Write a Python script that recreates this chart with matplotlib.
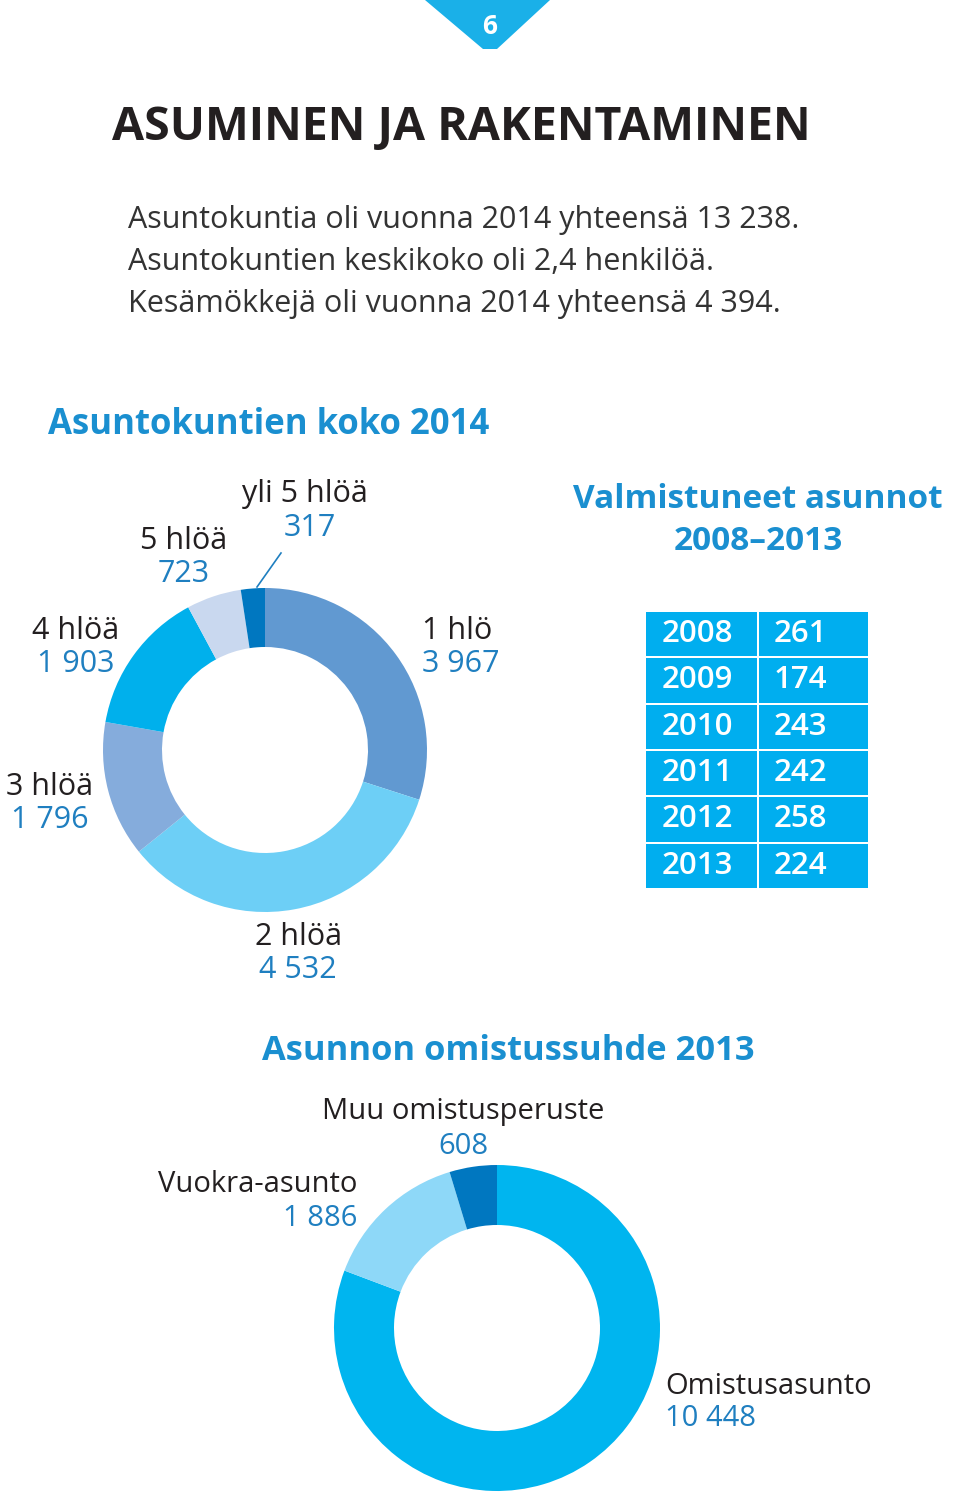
import matplotlib
matplotlib.use("Agg")
import matplotlib.pyplot as plt
from matplotlib.patches import Polygon, Rectangle

W, H = 960, 1503

# ---- data ----
hh_labels = ["1 hlö", "2 hlöä", "3 hlöä", "4 hlöä", "5 hlöä", "yli 5 hlöä"]
hh_values = [3967, 4532, 1796, 1903, 723, 317]
hh_value_text = ["3 967", "4 532", "1 796", "1 903", "723", "317"]
hh_colors = ["#6199d1", "#6dcff6", "#85acdc", "#00b0ec", "#c9d8ef", "#0077c0"]

years = ["2008", "2009", "2010", "2011", "2012", "2013"]
completed = [261, 174, 243, 242, 258, 224]

own_labels = ["Omistusasunto", "Vuokra-asunto", "Muu omistusperuste"]
own_values = [10448, 1886, 608]
own_value_text = ["10 448", "1 886", "608"]
own_colors = ["#00b5ef", "#8ed8f8", "#0077c0"]

BLUE_T = "#1a8fd0"
BLUE_V = "#1f7fc0"
DARK = "#231f20"
FONT = "Open Sans"

fig = plt.figure(figsize=(W / 100, H / 100), dpi=100)
ax = fig.add_axes([0, 0, 1, 1])

def Y(y):
    return H - y

def txt(x, y, s, size, color=DARK, weight="normal", ha="left", va="center"):
    ax.text(x, Y(y), s, fontsize=size, color=color, fontweight=weight,
            ha=ha, va=va, family=FONT)

# household donut
ax.pie(hh_values, colors=hh_colors, startangle=90, counterclock=False,
       center=(265, Y(750)), radius=162, frame=True,
       wedgeprops=dict(width=59, edgecolor="none"))
# ownership donut
ax.pie(own_values, colors=own_colors, startangle=90, counterclock=False,
       center=(497, Y(1328)), radius=163, frame=True,
       wedgeprops=dict(width=60, edgecolor="none"))

ax.set_xlim(0, W)
ax.set_ylim(0, H)
ax.set_aspect("equal")
ax.axis("off")

# page tab
tri = Polygon([(425, Y(0)), (550, Y(0)), (497, Y(49)), (483, Y(49))],
              closed=True, facecolor="#1ab0e8", edgecolor="none")
ax.add_patch(tri)
txt(490, 27, "6", 19, color="white", weight="bold", ha="center")

# title & intro
txt(112, 127, "ASUMINEN JA RAKENTAMINEN", 33.5, weight="bold")
intro = ["Asuntokuntia oli vuonna 2014 yhteensä 13 238.",
         "Asuntokuntien keskikoko oli 2,4 henkilöä.",
         "Kesämökkejä oli vuonna 2014 yhteensä 4 394."]
for i, line in enumerate(intro):
    txt(128, 220 + i * 42, line, 22, color="#333333")

# household donut labels
txt(48, 425, "Asuntokuntien koko 2014", 25, color=BLUE_T, weight="bold")
hh_pos = [(422, 631, 664), (255, 937, 970), (6, 787, 820),
          (32, 631, 664), (140, 541, 574), (242, 494, 528)]
for (x, yl, yv), lab in zip(hh_pos, hh_labels):
    txt(x, yl, lab, 22)
for (x, yl, yv), vt, off in zip(hh_pos, hh_value_text, [0, 4, 5, 5, 18, 42]):
    txt(x + off, yv, vt, 22, color=BLUE_V)
ax.plot([257, 281], [Y(587), Y(553)], color=BLUE_V, lw=1.2)

# completed dwellings table
txt(758, 500, "Valmistuneet asunnot", 24, color=BLUE_T, weight="bold", ha="center")
txt(758, 541, "2008–2013", 24, color=BLUE_T, weight="bold", ha="center")
top = 612
rh = 46.3
for i, (yr, v) in enumerate(zip(years, completed)):
    y0 = top + i * rh
    ax.add_patch(Rectangle((646, Y(y0 + rh - 2)), 111, rh - 2,
                           facecolor="#00aeef", edgecolor="none"))
    ax.add_patch(Rectangle((759, Y(y0 + rh - 2)), 109, rh - 2,
                           facecolor="#00aeef", edgecolor="none"))
    txt(662, y0 + rh / 2 - 1, yr, 22.5, color="white", weight="semibold")
    txt(774, y0 + rh / 2 - 1, str(v), 22.5, color="white", weight="semibold")

# ownership donut labels
txt(262, 1051, "Asunnon omistussuhde 2013", 24.8, color=BLUE_T, weight="bold")
txt(665, 1386, own_labels[0], 21)
txt(665, 1419, own_value_text[0], 21, color=BLUE_V)
txt(357, 1184, own_labels[1], 21, ha="right")
txt(357, 1218, own_value_text[1], 21, color=BLUE_V, ha="right")
txt(463, 1112, own_labels[2], 21, ha="center")
txt(463, 1146, own_value_text[2], 21, color=BLUE_V, ha="center")

fig.savefig("out.png", dpi=100)
